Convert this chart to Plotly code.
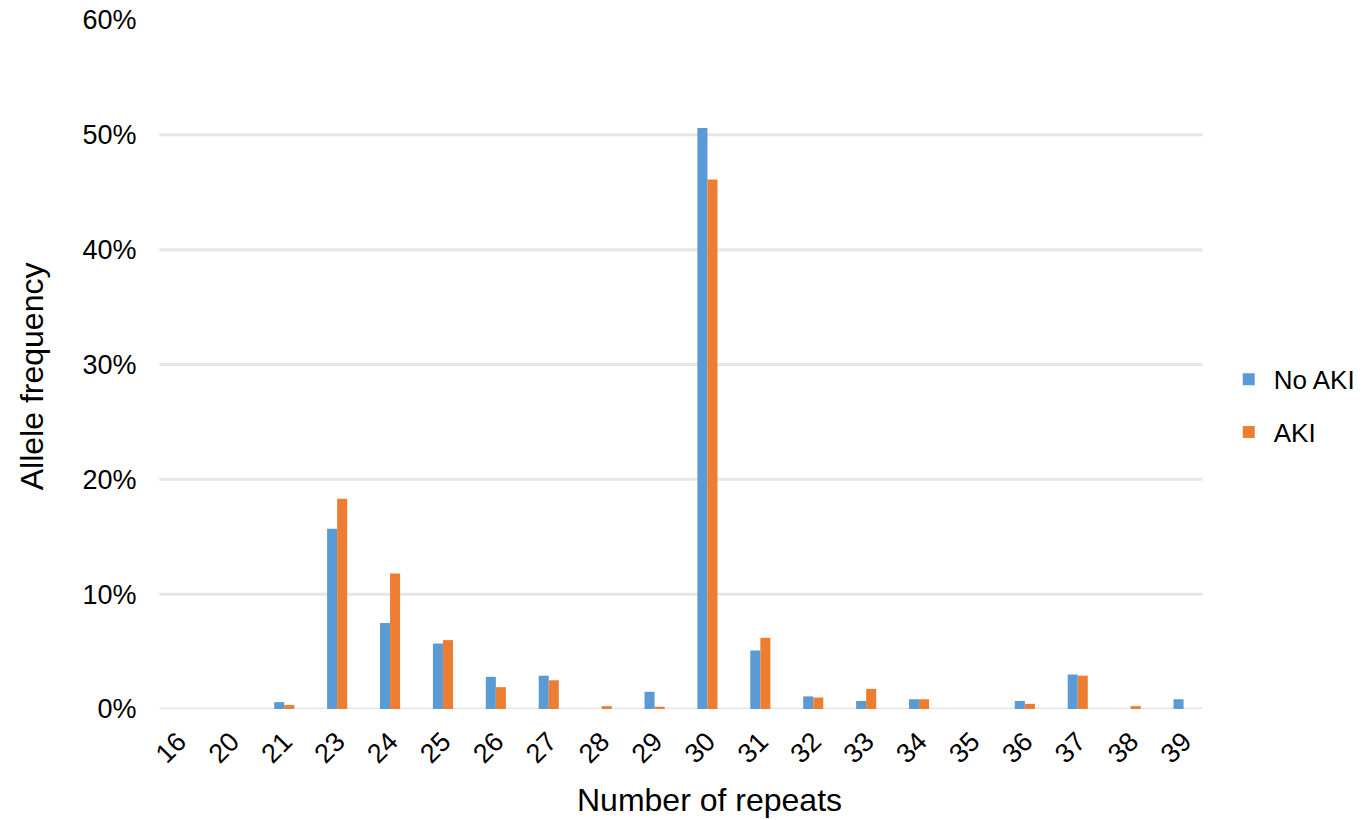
import plotly.graph_objects as go

categories = ["16", "20", "21", "23", "24", "25", "26", "27", "28", "29",
              "30", "31", "32", "33", "34", "35", "36", "37", "38", "39"]
no_aki = [0, 0, 0.006, 0.157, 0.075, 0.057, 0.028, 0.029, 0, 0.015,
          0.506, 0.051, 0.011, 0.007, 0.0085, 0, 0.007, 0.030, 0, 0.0085]
aki = [0, 0, 0.0035, 0.183, 0.118, 0.060, 0.019, 0.025, 0.0025, 0.002,
       0.461, 0.062, 0.010, 0.0175, 0.0085, 0, 0.0045, 0.029, 0.0025, 0]
y_ticks = [0, 0.1, 0.2, 0.3, 0.4, 0.5, 0.6]
grid_vals = [0.1, 0.2, 0.3, 0.4, 0.5]

FONT = "Liberation Sans, Arial, sans-serif"

fig = go.Figure()
fig.add_trace(go.Bar(x=categories, y=no_aki, name="No AKI", marker_color="#5B9BD5",
                     marker_line_width=0, legendgroup="a"))
fig.add_trace(go.Bar(x=categories, y=aki, name="AKI", marker_color="#ED7D31",
                     marker_line_width=0, legendgroup="b"))

for v in grid_vals:
    fig.add_shape(type="line", xref="paper", yref="y", x0=0.007, x1=0.993, y0=v, y1=v,
                  line=dict(color="#E6E6E6", width=3), layer="below")
fig.add_shape(type="line", xref="paper", yref="y", x0=0.007, x1=0.993, y0=0, y1=0,
              line=dict(color="#E6E6E6", width=3), layer="below")

fig.add_annotation(text="Allele frequency", xref="paper", yref="paper",
                   x=-0.1134, y=0.483, xanchor="center", yanchor="middle",
                   textangle=-90, showarrow=False, font=dict(size=32))
fig.add_annotation(text="Number of repeats", xref="paper", yref="paper",
                   x=0.527, y=-0.132, xanchor="center", yanchor="middle",
                   showarrow=False, font=dict(size=32))

fig.update_layout(
    width=1372, height=820,
    margin=dict(l=152, r=162, t=20, b=111),
    paper_bgcolor="white", plot_bgcolor="white",
    barmode="group", bargap=0.62, bargroupgap=0,
    font=dict(family=FONT, color="#000000", size=26),
    legend=dict(x=1.013, y=0.44, xanchor="left", yanchor="middle",
                font=dict(size=26, family=FONT), itemwidth=40, tracegroupgap=16,
                traceorder="grouped", bgcolor="rgba(0,0,0,0)"),
    xaxis=dict(type="category", tickangle=-45, tickfont=dict(size=27),
               showgrid=False, showline=False, zeroline=False, automargin=False,
               ticks="outside", ticklen=5, tickcolor="rgba(0,0,0,0)"),
    yaxis=dict(range=[0, 0.6], tickvals=y_ticks, tickformat=".0%",
               tickfont=dict(size=27), showgrid=False, zeroline=False, showline=False,
               automargin=False,
               ticks="outside", ticklen=9, tickcolor="rgba(0,0,0,0)"),
)

fig.write_html(
    "out.html",
    config={"displayModeBar": False},
    post_script="document.body.style.margin='0';document.body.style.padding='0';",
)
